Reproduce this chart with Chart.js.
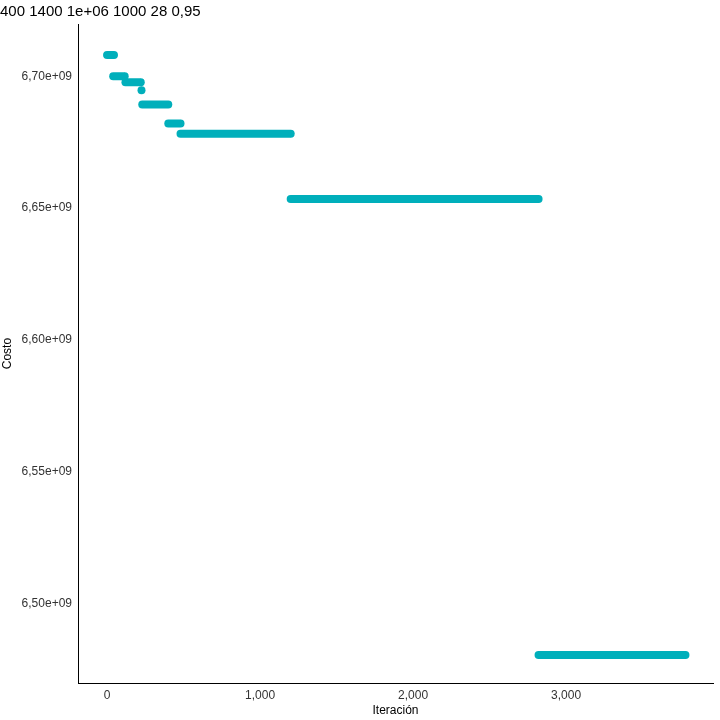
<!DOCTYPE html>
<html>
<head>
<meta charset="utf-8">
<script src="https://cdn.jsdelivr.net/npm/chart.js@4"></script>
<style>
  body { margin: 0; background: #fff; }
  #wrap { width: 720px; height: 720px; }
</style>
</head>
<body>
<div id="wrap"><canvas id="grafica"></canvas></div>
<script>
const titulo = '400 1400 1e+06 1000 28 0,95';
// tramos en escalera: inicio, fin y costo de cada uno
const tramoInicio = [0, 40, 120, 225, 230, 400, 480, 1200, 2820];
const tramoFin = [45, 115, 220, 225, 400, 480, 1200, 2820, 3780];
const tramoCosto = [6.708e9, 6.700e9, 6.6977e9, 6.6947e9, 6.6893e9, 6.6821e9, 6.6782e9, 6.6534e9, 6.4805e9];
const ticksX = [0, 1000, 2000, 3000];
const ticksY = [6.50e9, 6.55e9, 6.60e9, 6.65e9, 6.70e9];
const color = '#00AFBB';

const fmtY = v => (v / 1e9).toFixed(2).replace('.', ',') + 'e+09';

const datasets = tramoInicio.map((x0, i) => ({
    type: 'line',
    data: [{ x: x0, y: tramoCosto[i] }, { x: tramoFin[i], y: tramoCosto[i] }],
    borderColor: color,
    borderWidth: 8,
    borderCapStyle: 'round',
    pointRadius: 0
}));
datasets.push({
    type: 'scatter',
    data: tramoFin.map((x, i) => ({ x: x, y: tramoCosto[i] })),
    backgroundColor: '#fff',
    borderColor: color,
    borderWidth: 1,
    pointRadius: 3
});

new Chart(document.getElementById('grafica'), {
    data: { datasets: datasets },
    options: {
        responsive: true, maintainAspectRatio: false, animation: false,
        layout: { padding: { left: 0, right: 7, top: 0, bottom: 2 } },
        plugins: {
            legend: { display: false }, tooltip: { enabled: false },
            title: { display: true, text: titulo, align: 'start', color: '#000',
                     font: { family: 'Liberation Sans', size: 15, weight: 'normal' },
                     padding: { top: 3, bottom: 3 } }
        },
        scales: {
            x: {
                type: 'linear', min: -190, max: 3960,
                afterBuildTicks: s => { s.ticks = ticksX.map(v => ({ value: v })); },
                grid: { display: false, drawTicks: true, tickLength: 4, color: '#000' },
                border: { color: '#000' },
                ticks: { color: '#333', font: { family: 'Liberation Sans', size: 12 }, padding: 1 },
                title: { display: true, text: 'Iteración', color: '#000', padding: 0,
                         font: { family: 'Liberation Sans', size: 12 } }
            },
            y: {
                min: 6.4698e9, max: 6.7198e9,
                afterBuildTicks: s => { s.ticks = ticksY.map(v => ({ value: v })); },
                afterFit: s => { s.width = 78; },
                grid: { display: false, tickLength: 4, color: '#000' },
                border: { color: '#000' },
                ticks: { color: '#333', font: { family: 'Liberation Sans', size: 12 }, padding: 2,
                         callback: v => fmtY(v) },
                title: { display: true, text: 'Costo', color: '#000', padding: 0,
                         font: { family: 'Liberation Sans', size: 12 } }
            }
        }
    }
});
</script>
</body>
</html>
